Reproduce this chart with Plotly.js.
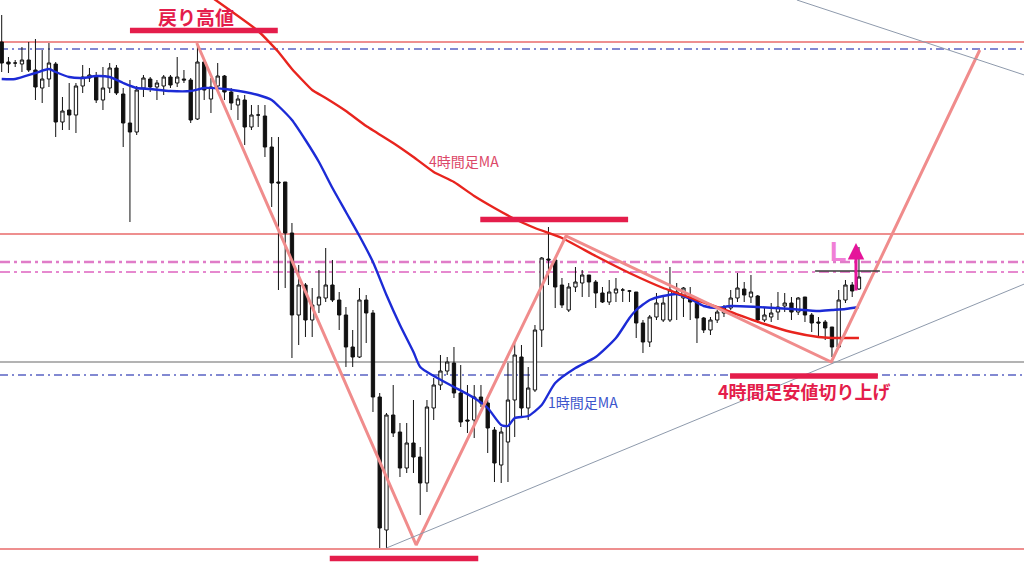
<!DOCTYPE html>
<html>
<head>
<meta charset="utf-8">
<script src="https://cdn.plot.ly/plotly-3.0.1.min.js"></script>
<style>
  html, body { margin: 0; padding: 0; background: #ffffff; }
  #chart { width: 1024px; height: 576px; }
</style>
</head>
<body>
<div id="chart"></div>
<script>
// 1-hour candles (price in points)
const open = [
  534,514,513,512,516,506,488,497,512,454,
  466,461,490,498,499,476,488,508,482,453,
  444,488,497,489,490,499,493,497,496,457,
  514,477,490,500,484,471,476,449,461,460,
  429,394,394,343,261,291,256,271,278,291,
  276,261,229,219,276,263,179,46,161,144,
  108,133,119,93,168,191,205,213,183,156,
  156,179,173,146,111,134,176,219,168,186,
  246,317,316,291,266,289,293,301,294,283,
  274,283,286,285,284,253,234,259,256,256,
  282,278,278,274,258,246,256,263,268,278,
  287,279,280,256,259,264,270,273,264,279,
  261,254,254,249,229,276,291,287
];
const high = [
  561,519,516,529,534,537,526,533,514,479,
  493,493,511,508,504,509,513,511,488,496,
  490,501,499,496,501,501,519,506,498,533,
  516,498,513,501,488,481,481,471,471,471,
  439,439,394,353,311,293,288,306,328,316,
  284,269,246,288,281,266,183,163,191,153,
  153,176,129,176,198,221,219,229,211,191,
  191,191,176,149,149,213,233,231,209,251,
  319,349,318,298,293,309,306,301,296,289,
  296,298,288,286,284,256,261,283,280,309,
  293,289,289,276,259,259,266,271,286,303,
  294,301,281,268,273,284,283,279,279,279,
  263,259,256,249,286,296,294,329
];
const low = [
  504,503,509,504,504,476,473,489,439,446,
  446,443,483,494,473,466,483,481,429,354,
  441,479,484,476,481,488,489,493,453,456,
  476,463,486,476,466,456,431,446,449,419,
  369,286,288,218,231,239,239,263,274,274,
  246,209,209,218,233,164,28,28,139,99,
  103,103,61,84,156,186,201,178,149,143,
  138,169,123,94,93,94,139,159,156,184,
  229,291,268,268,264,284,279,279,268,273,
  271,274,274,274,238,223,229,256,254,254,
  256,259,256,233,243,241,253,259,266,274,
  274,273,253,254,254,256,264,256,261,254,
  244,238,236,219,228,273,279,286
];
const close = [
  513,512,513,516,506,489,497,513,454,465,
  461,490,499,501,476,488,508,483,453,444,
  486,498,489,493,499,491,499,496,456,514,
  486,489,500,484,473,477,449,461,461,429,
  393,393,343,261,291,256,271,279,291,276,
  261,229,219,276,263,179,48,161,143,108,
  133,119,93,169,191,205,214,183,154,155,
  179,173,148,113,144,176,221,168,188,246,
  318,316,289,271,289,294,301,294,283,274,
  284,287,286,285,253,234,259,273,273,286,
  284,288,274,258,246,256,264,268,278,288,
  281,284,256,261,263,269,273,264,278,261,
  253,253,248,229,276,291,285,299
];
const bars = open.map((_, i) => i);

// 1-hour moving average (bar index, value)
const ma1hX = [0,2,5,7,8,10,12,14,16,18,20,22,25,28,30,33,36,38,40,41,43,45,47,49,51,53,55,57,59,61,62,64,67,70,72,74,75,76,78,80,82,85,88,91,93,94,96,98,100,102,104,106,108,112,117,121,123,125,127];
const ma1hY = [497,497,503,507,504,499,498,500,499,493,488,487,485,485,488,487,484,481,476,470,456,436,414,388,364,340,314,281,251,224,209,200,189,178,168,151,150,158,160,171,193,208,219,238,258,266,276,280,282,277,270,268,270,269,267,265,266,267,269];

// 4-hour moving average (bar index, value)
const ma4hX = [30,38,41,43,46,48,51,54,58,61,64,67,70,73,76,79,83,88,93,98,103,108,113,117,121,123,127];
const ma4hY = [584,545,524,507,486,478,465,450,433,419,404,394,380,368,357,348,338,320,303,288,276,264,252,244,239,238,238];

// swing legs: return high -> low -> high -> higher low -> projection
const swingX = [28.9, 61.4, 83.6, 122.9, 144.9];
const swingY = [533, 31, 340, 214, 526];

// trend lines
const supportX = [57, 151.5];
const supportY = [28, 292];
const resistX = [117.8, 151.5];
const resistY = [576, 501];

// horizontal levels
const redLevels = [534, 342, 27];
const blueLevels = [527, 201];
const pinkLevels = [314, 304];
const grayLevels = [214];

const CRIMSON = '#e41d4b';
const JP = '"Noto Sans CJK JP", "Noto Sans", sans-serif';

const traces = [
  {
    type: 'candlestick', x: bars, open: open, high: high, low: low, close: close,
    increasing: { line: { color: '#111111', width: 1 }, fillcolor: '#ffffff' },
    decreasing: { line: { color: '#111111', width: 1 }, fillcolor: '#111111' },
    whiskerwidth: 0, hoverinfo: 'skip'
  },
  { type: 'scatter', mode: 'lines', x: ma1hX, y: ma1hY, line: { color: '#1c2bd6', width: 2.4, shape: 'spline', smoothing: 0.6 }, hoverinfo: 'skip' },
  { type: 'scatter', mode: 'lines', x: ma4hX, y: ma4hY, line: { color: '#e8241e', width: 2.4, shape: 'spline', smoothing: 0.4 }, hoverinfo: 'skip' },
  { type: 'scatter', mode: 'lines', x: swingX, y: swingY, line: { color: '#f08c8c', width: 3 }, hoverinfo: 'skip' },
  { type: 'scatter', mode: 'lines', x: supportX, y: supportY, line: { color: '#8e9aac', width: 1 }, hoverinfo: 'skip' },
  { type: 'scatter', mode: 'lines', x: resistX, y: resistY, line: { color: '#8e9aac', width: 1 }, hoverinfo: 'skip' }
];

const shapes = [];
redLevels.forEach(v => shapes.push({ type: 'line', xref: 'paper', yref: 'y', x0: 0, x1: 1, y0: v, y1: v, layer: 'below', line: { color: '#e86a6a', width: 1.3 } }));
blueLevels.forEach(v => shapes.push({ type: 'line', xref: 'paper', yref: 'y', x0: 0, x1: 1, y0: v, y1: v, layer: 'below', line: { color: '#5a63c4', width: 1.3, dash: '8px,4px,2px,4px' } }));
shapes.push({ type: 'line', xref: 'paper', yref: 'y', x0: 0, x1: 1, y0: pinkLevels[0], y1: pinkLevels[0], layer: 'below', line: { color: '#e07cc8', width: 2.6, dash: '10px,4px,3px,4px' } });
shapes.push({ type: 'line', xref: 'paper', yref: 'y', x0: 0, x1: 1, y0: pinkLevels[1], y1: pinkLevels[1], layer: 'below', line: { color: '#e689cf', width: 1.8, dash: '10px,4px,3px,4px' } });
grayLevels.forEach(v => shapes.push({ type: 'line', xref: 'paper', yref: 'y', x0: 0, x1: 1, y0: v, y1: v, layer: 'below', line: { color: '#9a9a9a', width: 1.4 } }));

// highlighted swing marks
const marks = [
  { x0: 19.0, x1: 40.9, y: 545.5 },
  { x0: 70.9, x1: 92.8, y: 356.5 },
  { x0: 48.6, x1: 70.6, y: 17.5 },
  { x0: 107.9, x1: 129.8, y: 200 }
];
marks.forEach(m => shapes.push({ type: 'line', xref: 'x', yref: 'y', x0: m.x0, x1: m.x1, y0: m.y, y1: m.y, line: { color: CRIMSON, width: 5.5 } }));
// latest swing reference line
shapes.push({ type: 'line', xref: 'x', yref: 'y', x0: 120.5, x1: 130.1, y0: 305, y1: 305, line: { color: '#3a3a3a', width: 1.5 } });

const annotations = [
  { x: 28.8, y: 560, xref: 'x', yref: 'y', text: '<b>戻り高値</b>', showarrow: false, font: { family: JP, size: 19, color: CRIMSON } },
  { x: 68.5, y: 415, xref: 'x', yref: 'y', text: '4時間足MA', showarrow: false, font: { family: JP, size: 14, color: '#dc4868' } },
  { x: 86.1, y: 174, xref: 'x', yref: 'y', text: '1時間足MA', showarrow: false, font: { family: JP, size: 14, color: '#3c55cc' } },
  { x: 118.9, y: 185, xref: 'x', yref: 'y', text: '<b>4時間足安値切り上げ</b>', showarrow: false, font: { family: JP, size: 18, color: CRIMSON } },
  { x: 124.0, y: 324, xref: 'x', yref: 'y', text: '<b>L</b>', showarrow: false, font: { family: 'Liberation Sans, Arial, sans-serif', size: 27, color: '#f07fd6' } },
  { x: 126.56, y: 333, xref: 'x', yref: 'y', ax: 126.56, ay: 284, axref: 'x', ayref: 'y', text: '', showarrow: true, arrowhead: 2, arrowsize: 1.1, arrowwidth: 3, arrowcolor: '#e5149a' }
];

const layout = {
  width: 1024, height: 576,
  margin: { l: 0, r: 0, t: 0, b: 0 },
  paper_bgcolor: '#ffffff', plot_bgcolor: '#ffffff',
  showlegend: false,
  xaxis: { range: [-0.252, 151.45], visible: false, rangeslider: { visible: false }, fixedrange: true },
  yaxis: { range: [0, 576], visible: false, fixedrange: true },
  shapes: shapes,
  annotations: annotations
};

Plotly.newPlot('chart', traces, layout, { staticPlot: true, displayModeBar: false });
</script>
</body>
</html>
